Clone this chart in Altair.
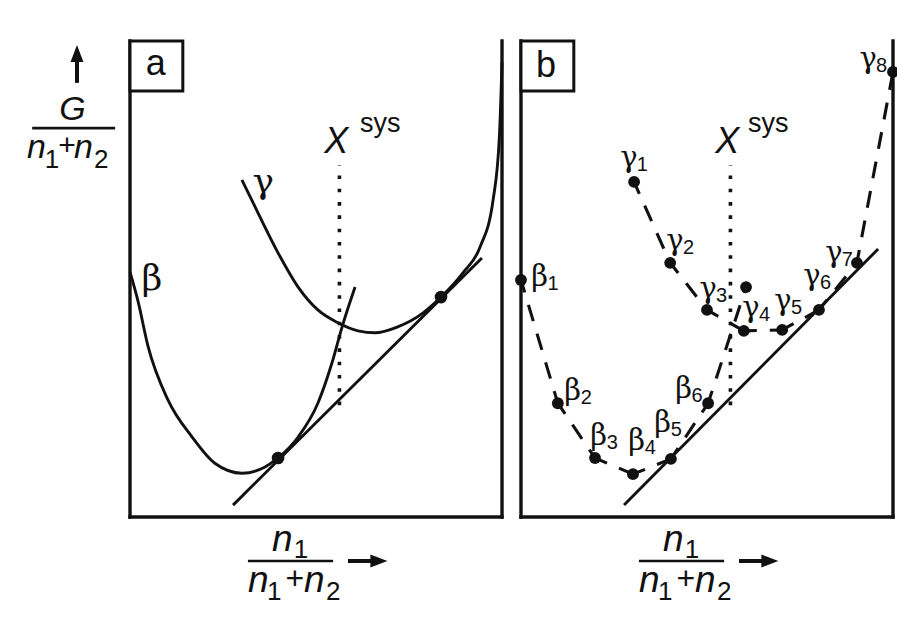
import altair as alt
import pandas as pd

# ---------------- values ----------------
# x = n1/(n1+n2) inside a panel (0..1), g = G/(n1+n2) in arbitrary units (0..1)
PANEL_OFFSET = {"a": 0.0, "b": 1.051}   # panel b sits to the right of panel a

# panel a: continuous free-energy curves
beta_a_x = [0.000, 0.022, 0.048, 0.102, 0.167, 0.228, 0.301, 0.363, 0.398, 0.452, 0.505, 0.543, 0.570, 0.605]
beta_a_g = [0.515, 0.452, 0.360, 0.246, 0.168, 0.113, 0.092, 0.105, 0.124, 0.168, 0.239, 0.324, 0.399, 0.483]
gamma_a_x = [0.301, 0.344, 0.398, 0.452, 0.505, 0.559, 0.613, 0.659, 0.718, 0.788, 0.836, 0.895, 0.941, 0.976, 0.993, 1.000]
gamma_a_g = [0.708, 0.639, 0.555, 0.483, 0.435, 0.408, 0.391, 0.387, 0.399, 0.429, 0.462, 0.513, 0.567, 0.666, 0.800, 0.955]
tangent_a_x = [0.277, 0.946]
tangent_a_g = [0.025, 0.544]
touch_a_x = [0.398, 0.836]
touch_a_g = [0.124, 0.462]

# panel b: discrete compositions
beta_b_x = [0.000, 0.099, 0.199, 0.301, 0.403, 0.503, 0.605]
beta_b_g = [0.498, 0.239, 0.124, 0.090, 0.122, 0.239, 0.483]
beta_b_lab = ["1", "2", "3", "4", "5", "6", ""]
gamma_b_x = [0.304, 0.401, 0.500, 0.599, 0.702, 0.801, 0.903, 1.000]
gamma_b_g = [0.704, 0.534, 0.435, 0.391, 0.393, 0.435, 0.534, 0.935]
gamma_b_lab = ["1", "2", "3", "4", "5", "6", "7", "8"]
tangent_b_x = [0.277, 0.960]
tangent_b_g = [0.025, 0.563]

# overall composition X_sys
xsys = 0.563
xsys_g = [0.235, 0.739]

# label anchors for panel b (letter centre, baseline)
beta_lab_x = [0.050, 0.139, 0.209, 0.311, 0.381, 0.437]
beta_lab_g = [0.485, 0.246, 0.151, 0.141, 0.179, 0.250]
gamma_lab_x = [0.290, 0.414, 0.503, 0.618, 0.704, 0.782, 0.841, 0.933]
gamma_lab_g = [0.735, 0.561, 0.460, 0.420, 0.435, 0.487, 0.536, 0.943]

INK = "#111111"


def place(df):
    df = df.copy()
    off = df["panel"].map(PANEL_OFFSET)
    df["gx"] = df["x"] + off
    if "x2" in df:
        df["gx2"] = df["x2"] + off
    return df


xs = alt.Scale(domain=[0, 2.051], nice=False, zero=False)
ys = alt.Scale(domain=[0, 1], nice=False, zero=False)
X = alt.X("gx:Q", scale=xs, axis=None)
Y = alt.Y("g:Q", scale=ys, axis=None)
X2 = alt.X2("gx2:Q")
Y2 = alt.Y2("g2:Q")

# ---------- tables ----------
frame = place(pd.DataFrame({
    "panel": ["a"] * 3 + ["b"] * 3,
    "x": [0, 1, 0] * 2, "x2": [0, 1, 1] * 2,
    "g": [0, 0, 0] * 2, "g2": [1, 1, 0] * 2,
}))
boxes = place(pd.DataFrame({"panel": ["a", "b"], "x": [0, 0], "x2": [0.142, 0.142],
                            "g": [0.895, 0.895], "g2": [1.0, 1.0]}))

curves = place(pd.concat([
    pd.DataFrame({"panel": "a", "phase": "beta", "x": beta_a_x, "g": beta_a_g}),
    pd.DataFrame({"panel": "a", "phase": "gamma", "x": gamma_a_x, "g": gamma_a_g}),
], ignore_index=True))

tangents = place(pd.concat([
    pd.DataFrame({"panel": "a", "x": tangent_a_x, "g": tangent_a_g}),
    pd.DataFrame({"panel": "b", "x": tangent_b_x, "g": tangent_b_g}),
], ignore_index=True))

dots_a = place(pd.DataFrame({"panel": "a", "x": touch_a_x, "g": touch_a_g}))
dots_b = place(pd.concat([
    pd.DataFrame({"panel": "b", "x": beta_b_x, "g": beta_b_g}),
    pd.DataFrame({"panel": "b", "x": gamma_b_x, "g": gamma_b_g}),
], ignore_index=True))

seg_rows = []
for name, xv, gv in [("beta", beta_b_x, beta_b_g), ("gamma", gamma_b_x, gamma_b_g)]:
    for i in range(len(xv) - 1):
        seg_rows.append({"panel": "b", "seg": f"{name}{i}", "ord": 0, "x": xv[i], "g": gv[i]})
        seg_rows.append({"panel": "b", "seg": f"{name}{i}", "ord": 1, "x": xv[i + 1], "g": gv[i + 1]})
segs = place(pd.DataFrame(seg_rows))

dotted = place(pd.DataFrame({"panel": ["a", "b"], "x": [xsys, xsys],
                             "g": [xsys_g[0]] * 2, "g2": [xsys_g[1]] * 2}))

# fraction bars and arrows of the axis titles
frac = place(pd.DataFrame({"panel": ["a", "a", "b"], "x": [-0.263, 0.317, 0.317],
                           "x2": [-0.040, 0.546, 0.546], "g": [0.817, -0.0924, -0.0924]}))
frac["g2"] = frac["g"]
shafts = place(pd.DataFrame({"panel": ["a", "a", "b"], "x": [-0.1425, 0.586, 0.586],
                             "x2": [-0.1425, 0.655, 0.655], "g": [0.912, -0.0924, -0.0924],
                             "g2": [0.958, -0.0924, -0.0924]}))
head_up = place(pd.DataFrame({"panel": ["a"], "x": [-0.1425], "g": [0.974]}))
head_right = place(pd.DataFrame({"panel": ["a", "b"], "x": [0.669, 0.669], "g": [-0.0924, -0.0924]}))

# text pieces
ital = []
reg = []
for p in ["a", "b"]:
    ital += [("n", p, 0.382, -0.0714, 37), ("n", p, 0.317, -0.158, 37),
             ("n", p, 0.468, -0.158, 37), ("X", p, 0.522, 0.765, 36)]
    reg += [("1", p, 0.440, -0.0861, 26), ("1", p, 0.368, -0.174, 26),
            ("+", p, 0.418, -0.151, 32), ("2", p, 0.527, -0.174, 26),
            ("sys", p, 0.618 if p == "a" else 0.610, 0.809, 27)]
ital += [("G", "a", -0.190, 0.834, 34), ("n", "a", -0.277, 0.754, 34), ("n", "a", -0.1505, 0.754, 34)]
reg += [("1", "a", -0.229, 0.733, 26), ("+", "a", -0.193, 0.761, 30), ("2", "a", -0.0968, 0.733, 26)]
cols = ["text", "panel", "x", "g", "size"]
ital = place(pd.DataFrame(ital, columns=cols))
reg = place(pd.DataFrame(reg, columns=cols))
panel_letters = place(pd.DataFrame([("a", "a", 0.069, 0.929, 36), ("b", "b", 0.067, 0.924, 36)], columns=cols))

greek = [("β", "a", 0.059, 0.477, 36), ("γ", "a", 0.358, 0.681, 36)]
subs = []
for i, s in enumerate(beta_b_lab[:6]):
    greek.append(("β", "b", beta_lab_x[i], beta_lab_g[i], 29))
    subs.append((s, "b", beta_lab_x[i], beta_lab_g[i], 20))
for i, s in enumerate(gamma_b_lab):
    greek.append(("γ", "b", gamma_lab_x[i], gamma_lab_g[i], 29))
    subs.append((s, "b", gamma_lab_x[i], gamma_lab_g[i], 20))
greek = place(pd.DataFrame(greek, columns=cols))
subs = place(pd.DataFrame(subs, columns=cols))

# ---------- layers ----------
frame_l = alt.Chart(frame).mark_rule(color=INK, strokeWidth=3.4, strokeCap="square").encode(X, X2, Y, Y2)
box_l = alt.Chart(boxes).mark_rect(fill="white", stroke=INK, strokeWidth=3).encode(X, X2, Y, Y2)
curve_l = alt.Chart(curves).mark_line(color=INK, strokeWidth=2.9, interpolate="monotone").encode(
    X, Y, detail="phase:N", order="gx:Q")
tan_l = alt.Chart(tangents).mark_line(color=INK, strokeWidth=2.9).encode(X, Y, detail="panel:N")
dotted_l = alt.Chart(dotted).mark_rule(color=INK, strokeWidth=3.6, strokeDash=[3.6, 9.7]).encode(X, Y, Y2)
seg_l = alt.Chart(segs).mark_line(color=INK, strokeWidth=3.1, strokeDash=[17, 13], strokeDashOffset=4).encode(
    X, Y, detail="seg:N", order="ord:Q")
dots_a_l = alt.Chart(dots_a).mark_circle(color=INK, opacity=1, size=160).encode(X, Y)
dots_b_l = alt.Chart(dots_b).mark_circle(color=INK, opacity=1, size=140).encode(X, Y)
frac_l = alt.Chart(frac).mark_rule(color=INK, strokeWidth=2.6).encode(X, X2, Y, Y2)
shaft_l = alt.Chart(shafts).mark_rule(color=INK, strokeWidth=4).encode(X, X2, Y, Y2)
up_l = alt.Chart(head_up).mark_point(shape="M-0.76,1L0,-1L0.76,1Z", filled=True, size=289,
                                     color=INK, opacity=1).encode(X, Y)
right_l = alt.Chart(head_right).mark_point(shape="M-1,-0.76L1,0L-1,0.76Z", filled=True, size=289,
                                           color=INK, opacity=1).encode(X, Y)

SIZE = alt.Size("size:Q", scale=None, legend=None)
ital_l = alt.Chart(ital).mark_text(font="Liberation Sans", fontStyle="italic", align="left",
                                   baseline="alphabetic", color=INK).encode(X, Y, text="text:N", size=SIZE)
reg_l = alt.Chart(reg).mark_text(font="Liberation Sans", align="left",
                                 baseline="alphabetic", color=INK).encode(X, Y, text="text:N", size=SIZE)
letters_l = alt.Chart(panel_letters).mark_text(font="Liberation Sans", align="center",
                                               baseline="alphabetic", color=INK).encode(X, Y, text="text:N", size=SIZE)
greek_l = alt.Chart(greek).mark_text(font="DejaVu Serif", align="center",
                                     baseline="alphabetic", color=INK).encode(X, Y, text="text:N", size=SIZE)
subs_l = alt.Chart(subs).mark_text(font="Liberation Sans", align="left", baseline="alphabetic",
                                   dx=8, dy=4, color=INK).encode(X, Y, text="text:N", size=SIZE)

chart = alt.layer(
    frame_l, curve_l, tan_l, dotted_l, seg_l, dots_a_l, dots_b_l, box_l,
    frac_l, shaft_l, up_l, right_l, ital_l, reg_l, letters_l, greek_l, subs_l,
).properties(
    width=763, height=476,
    autosize=alt.AutoSizeParams(type="none"),
    padding={"left": 122, "top": 33, "right": 4, "bottom": 92},
    background="white",
).configure_view(stroke=None)

chart.save("out.html", embed_options={"renderer": "svg", "actions": False})
